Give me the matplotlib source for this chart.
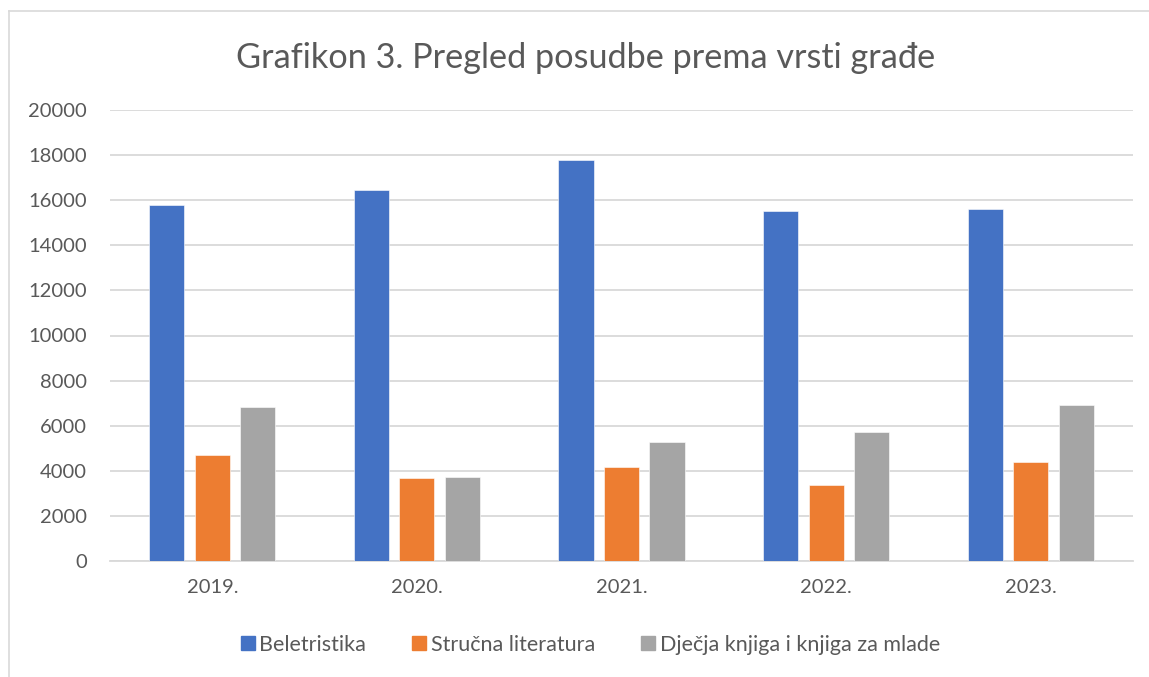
import numpy as np
import matplotlib
matplotlib.use("Agg")
import matplotlib.pyplot as plt
from matplotlib.lines import Line2D

plt.rcParams['font.family'] = ['Lato', 'DejaVu Sans']

# podaci
godine = ['2019.', '2020.', '2021.', '2022.', '2023.']
beletristika = [15800, 16460, 17800, 15530, 15600]
strucna = [4690, 3690, 4180, 3350, 4370]
djecja = [6850, 3720, 5260, 5720, 6900]
serije = ['Beletristika', 'Stručna literatura', 'Dječja knjiga i knjiga za mlade']
boje = ['#4472C4', '#ED7D31', '#A5A5A5']
yticks = list(range(0, 20001, 2000))

txt = '#595959'
grid = '#D9D9D9'

fig = plt.figure(figsize=(11.49, 6.77), dpi=100)
ax = fig.add_axes([110 / 1149, 1 - 561 / 677, 1023 / 1149, 451 / 677])

x = np.arange(len(godine))
w = 0.172
step = 0.222
for i, (vals, c) in enumerate(zip([beletristika, strucna, djecja], boje)):
    ax.bar(x + (i - 1) * step, vals, width=w, color=c, label=serije[i],
           edgecolor='white', linewidth=0.4, zorder=3)

ax.set_xlim(-0.5, len(godine) - 0.5)
ax.set_ylim(0, 20000)
ax.set_yticks(yticks)
ax.set_yticklabels([str(v) for v in yticks])
ax.set_xticks(x)
ax.set_xticklabels(godine)
ax.tick_params(axis='both', length=0, labelsize=14.5, colors=txt)
ax.tick_params(axis='y', pad=16.5)
ax.tick_params(axis='x', pad=13)
ax.grid(axis='y', color=grid, linewidth=1.3, zorder=0)
for s in ['top', 'right', 'left']:
    ax.spines[s].set_visible(False)
ax.spines['bottom'].set_color(grid)
ax.spines['bottom'].set_linewidth(1.3)

fig.text(586 / 1149, 1 - 58 / 677, 'Grafikon 3. Pregled posudbe prema vrsti građe',
         ha='center', va='center', fontsize=24.7, color=txt)

handles = [Line2D([], [], marker='s', linestyle='', markersize=10,
                  markerfacecolor=c, markeredgecolor=c) for c in boje]
fig.legend(handles, serije, loc='center', bbox_to_anchor=(589 / 1149, 1 - 645 / 677),
           ncol=3, frameon=False, fontsize=15.5, labelcolor=txt,
           handletextpad=0.1, columnspacing=2.0, handlelength=0.9)

# okvir grafikona
fig.add_artist(Line2D([9 / 1149, 9 / 1149], [0, 1 - 11 / 677], transform=fig.transFigure,
                      color=grid, linewidth=1.2))
fig.add_artist(Line2D([9 / 1149, 1], [1 - 11 / 677, 1 - 11 / 677], transform=fig.transFigure,
                      color=grid, linewidth=1.2))

fig.savefig('out.png', dpi=100)
